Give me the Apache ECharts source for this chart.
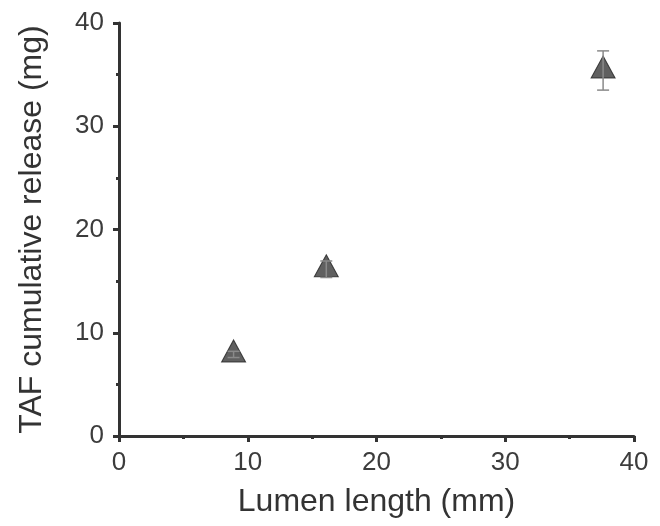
<!DOCTYPE html>
<html>
<head>
<meta charset="utf-8">
<script src="https://cdn.jsdelivr.net/npm/echarts@6/dist/echarts.min.js"></script>
<style>
  html, body { margin: 0; padding: 0; background: #fff; }
  #chart { width: 660px; height: 526px; }
</style>
</head>
<body>
<div id="chart"></div>
<script>
// lumen length (mm), cumulative release (mg), error (mg)
const lumenLength = [8.9, 16.1, 37.6]
const release = [7.9, 16.15, 35.4]
const releaseErr = [0.3, 0.8, 1.9]
const xTicks = [0, 10, 20, 30, 40]
const yTicks = [0, 10, 20, 30, 40]

const chart = echarts.init(document.getElementById('chart'), null, { renderer: 'canvas' })

const axisColor = '#333'
const labelColor = '#3c3c3c'
const font = 'Liberation Sans, Arial, sans-serif'

function axisCommon() {
  return {
    type: 'value',
    min: xTicks[0],
    max: xTicks[xTicks.length - 1],
    interval: 10,
    axisLine: { show: true, onZero: false, lineStyle: { color: axisColor, width: 3 } },
    axisTick: { show: true, inside: false, length: 6, lineStyle: { color: axisColor, width: 3 } },
    minorTick: { show: true, splitNumber: 2, length: 3, lineStyle: { color: axisColor, width: 3 } },
    splitLine: { show: false },
    axisLabel: { color: labelColor, fontSize: 26, fontFamily: font, margin: 14 },
    nameLocation: 'middle',
    nameTextStyle: { color: '#333', fontSize: 32, fontFamily: font }
  }
}

const option = {
  animation: false,
  grid: { left: 119, top: 23, right: 26, bottom: 90, containLabel: false },
  xAxis: Object.assign(axisCommon(), { name: 'Lumen length (mm)', nameGap: 50 }),
  yAxis: Object.assign(axisCommon(), {
    min: yTicks[0], max: yTicks[yTicks.length - 1],
    name: 'TAF cumulative release (mg)', nameGap: 71,
    axisLabel: { color: labelColor, fontSize: 26, fontFamily: font, margin: 15 }
  }),
  series: [
    {
      type: 'scatter',
      symbol: 'triangle',
      symbolSize: [24, 22],
      // Origin centres the triangle on its centroid
      symbolOffset: [0, -3.5],
      data: lumenLength.map((x, i) => [x, release[i]]),
      itemStyle: { color: '#383838', borderColor: '#222', borderWidth: 1 },
      z: 2
    },
    {
      type: 'custom',
      z: 3,
      data: lumenLength.map((x, i) => [x, release[i] - releaseErr[i], release[i] + releaseErr[i]]),
      renderItem: (params, api) => {
        const x = api.value(0)
        const lo = api.coord([x, api.value(1)])
        const hi = api.coord([x, api.value(2)])
        const w = 6
        const style = { stroke: '#8a8a8a', lineWidth: 1.5 }
        return {
          type: 'group',
          children: [
            { type: 'line', shape: { x1: lo[0], y1: lo[1], x2: hi[0], y2: hi[1] }, style },
            { type: 'line', shape: { x1: lo[0] - w, y1: lo[1], x2: lo[0] + w, y2: lo[1] }, style },
            { type: 'line', shape: { x1: hi[0] - w, y1: hi[1], x2: hi[0] + w, y2: hi[1] }, style }
          ]
        }
      }
    }
  ]
}

chart.setOption(option)
</script>
</body>
</html>
